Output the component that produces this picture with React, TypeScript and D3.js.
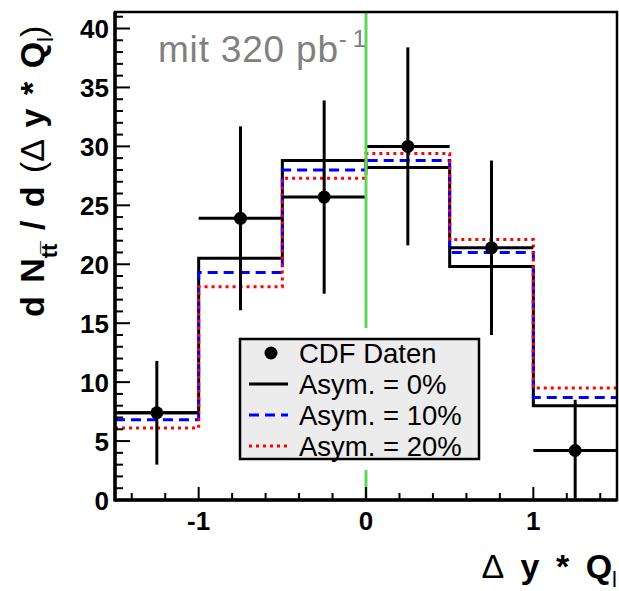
import React from "react";
import * as d3 from "d3";

const binEdges = [-1.5, -1, -0.5, 0, 0.5, 1, 1.5];
const asym0 = [7.4, 20.5, 28.8, 28.2, 19.8, 8.0];
const asym10 = [6.8, 19.3, 28.0, 28.8, 21.0, 8.7];
const asym20 = [6.1, 18.1, 27.3, 29.4, 22.1, 9.5];
const dataX = [-1.25, -0.75, -0.25, 0.25, 0.75, 1.25];
const dataY = [7.4, 23.9, 25.7, 30.0, 21.4, 4.2];
const dataErr = [4.4, 7.8, 8.2, 8.4, 7.4, 4.3];
const yTickLabels = [0, 5, 10, 15, 20, 25, 30, 35, 40];
const xTickLabels = [-1, 0, 1];
const legendLabels = ["CDF Daten", "Asym. = 0%", "Asym. = 10%", "Asym. = 20%"];

const W = 619, H = 591;
const L = 115, R = 617, T = 12, B = 500;
const FONT = "'Liberation Sans', Arial, Helvetica, sans-serif";

export default function App() {
  const x = d3.scaleLinear().domain([-1.5, 1.5]).range([L, R]);
  const y = d3.scaleLinear().domain([0, 41.4]).range([B, T]);

  const stepLine = d3
    .line<[number, number]>()
    .x((d) => x(d[0]))
    .y((d) => y(d[1]))
    .curve(d3.curveStepAfter);
  const histPts = (vals: number[]): [number, number][] => [
    ...vals.map((v, i) => [binEdges[i], v] as [number, number]),
    [binEdges[binEdges.length - 1], vals[vals.length - 1]],
  ];

  const yMinor = d3.range(0, 42, 1);
  const xMinor = d3.range(-14, 15, 2).map((v) => v / 10);

  const lgX0 = 240, lgY0 = 339, lgX1 = 479, lgY1 = 459;
  const rowH = 31;

  return (
    <svg width={W} height={H} style={{ position: "absolute", left: 0, top: 0, background: "#fff" }} fontFamily={FONT}>
      <defs>
        <clipPath id="plotclip">
          <rect x={L} y={T} width={R - L} height={B - T} />
        </clipPath>
      </defs>
      <rect x={0} y={0} width={W} height={H} fill="#fff" />

      {/* histograms */}
      <g clipPath="url(#plotclip)" fill="none">
        <path d={stepLine(histPts(asym0)) || ""} stroke="#000" strokeWidth={3} />
        <path d={stepLine(histPts(asym10)) || ""} stroke="#0000ff" strokeWidth={3} strokeDasharray="10,6" />
        <path d={stepLine(histPts(asym20)) || ""} stroke="#ff0000" strokeWidth={3} strokeDasharray="3,4" />
      </g>

      {/* data points */}
      <g clipPath="url(#plotclip)">
        {dataX.map((dx, i) => (
          <g key={i}>
            <line x1={x(dx)} x2={x(dx)} y1={y(dataY[i] - dataErr[i])} y2={y(dataY[i] + dataErr[i])} stroke="#000" strokeWidth={3} />
            <line x1={x(binEdges[i])} x2={x(binEdges[i + 1])} y1={y(dataY[i])} y2={y(dataY[i])} stroke="#000" strokeWidth={3} />
            <circle cx={x(dx)} cy={y(dataY[i])} r={6.5} fill="#000" />
          </g>
        ))}
      </g>

      {/* green line at zero */}
      <line x1={x(0)} x2={x(0)} y1={T} y2={B} stroke="#5fd85a" strokeWidth={3} />

      {/* text label */}
      <text x={158} y={62} fontSize={37} fill="#808080" letterSpacing={0.8}>
        mit 320 pb
        <tspan dy={-15} fontSize={24} letterSpacing={6}>-1</tspan>
      </text>

      {/* legend */}
      <rect x={lgX0 - 2} y={lgY0 - 11} width={lgX1 - lgX0 + 4} height={lgY1 - lgY0 + 22} fill="#fff" />
      <rect x={lgX0} y={lgY0} width={lgX1 - lgX0} height={lgY1 - lgY0} fill="#ececec" stroke="#000" strokeWidth={2.5} />
      {legendLabels.map((lab, i) => {
        const cy = lgY0 + 14 + i * rowH;
        return (
          <g key={lab}>
            {i === 0 && <circle cx={271} cy={cy} r={6.5} fill="#000" />}
            {i === 1 && <line x1={249} x2={288} y1={cy} y2={cy} stroke="#000" strokeWidth={3} />}
            {i === 2 && <line x1={249} x2={288} y1={cy} y2={cy} stroke="#0000ff" strokeWidth={3} strokeDasharray="10,6" />}
            {i === 3 && <line x1={249} x2={288} y1={cy} y2={cy} stroke="#ff0000" strokeWidth={3} strokeDasharray="3,4" />}
            <text x={299} y={cy + 9.5} fontSize={27.5} fill="#000">{lab}</text>
          </g>
        );
      })}

      {/* frame */}
      <rect x={L} y={T} width={R - L} height={B - T} fill="none" stroke="#000" strokeWidth={2.5} />
      <line x1={L} x2={L} y1={T} y2={B + 1.5} stroke="#000" strokeWidth={3.5} />
      <line x1={L} x2={R} y1={B} y2={B} stroke="#000" strokeWidth={3.5} />

      {/* y ticks */}
      {yMinor.map((v) => (
        <line key={"ym" + v} x1={L} x2={L + (v % 5 === 0 ? 15 : 8)} y1={y(v)} y2={y(v)} stroke="#000" strokeWidth={2} />
      ))}
      {yTickLabels.map((v) => (
        <text key={"yl" + v} x={109} y={y(v) + 9.5} fontSize={26} fontWeight="bold" textAnchor="end">{v}</text>
      ))}

      {/* x ticks */}
      {xMinor.map((v) => (
        <line key={"xm" + v} x1={x(v)} x2={x(v)} y1={B} y2={B - (Math.abs(v - Math.round(v)) < 1e-6 ? 13 : 7)} stroke="#000" strokeWidth={2} />
      ))}
      {xTickLabels.map((v) => (
        <text key={"xl" + v} x={x(v)} y={530} fontSize={26} fontWeight="bold" textAnchor="middle">{v}</text>
      ))}

      {/* x title */}
      <text x={R} y={578} fontSize={34} fontWeight="bold" textAnchor="end" wordSpacing={7}>
        <tspan fontWeight="normal">{"\u0394"}</tspan>
        {" y * Q"}
        <tspan dy={9} fontSize={22} fontWeight="normal">l</tspan>
      </text>

      {/* y title */}
      <text transform={`translate(44, 317) rotate(-90)`} fontSize={34} fontWeight="bold" textAnchor="start" wordSpacing={4}>
        {"d N"}
        <tspan dy={13} fontSize={22}>{"tt\u0305"}</tspan>
        <tspan dy={-13}>{" / d "}</tspan>
        <tspan fontWeight="normal">{"(\u0394 "}</tspan>
        <tspan>{"y * Q"}</tspan>
        <tspan dy={9} fontSize={22} fontWeight="normal">l</tspan>
        <tspan dy={-9} fontWeight="normal">)</tspan>
      </text>
    </svg>
  );
}
